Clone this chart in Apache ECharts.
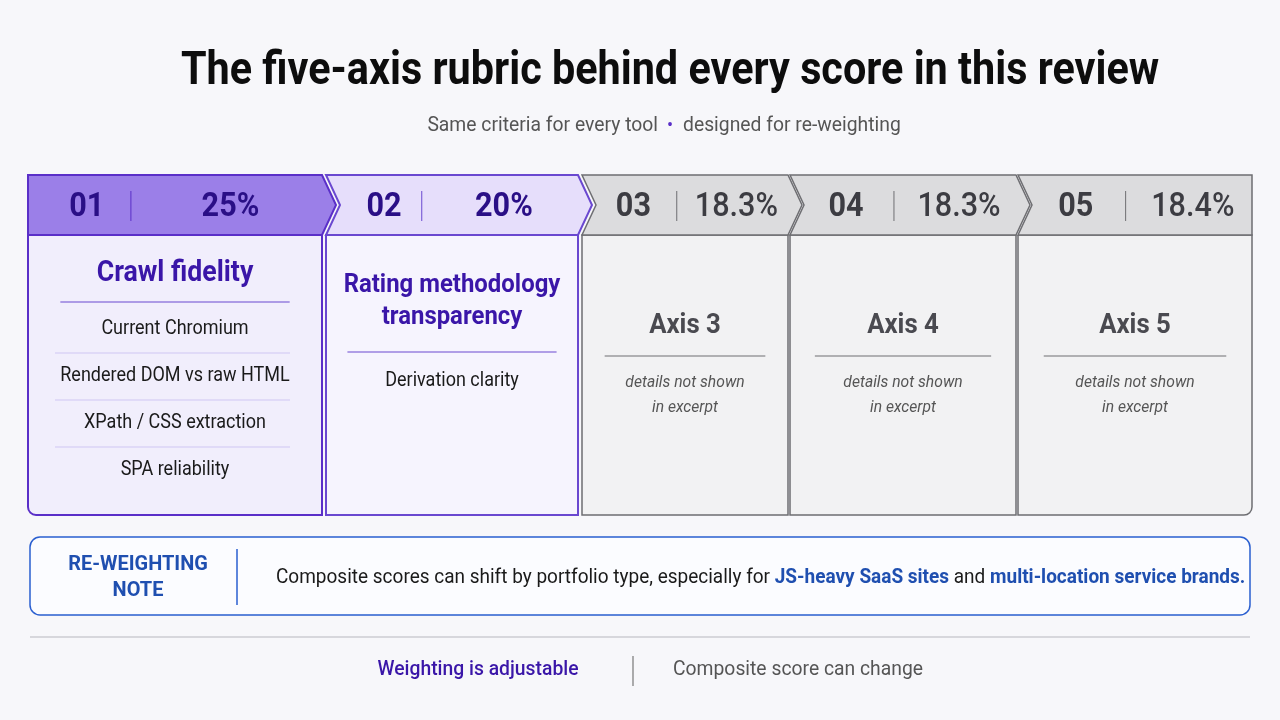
<!DOCTYPE html><html><head><meta charset="utf-8">
<script src="https://cdn.jsdelivr.net/npm/echarts@6/dist/echarts.min.js"></script>
<style>html,body{margin:0;background:#f7f7fa}#c{width:1280px;height:720px}</style></head><body><div id="c"></div>
<script>
const axisNums = ['01','02','03','04','05'];
const axisWeights = ['25%','20%','18.3%','18.3%','18.4%'];
const axisTitles = [['Crawl fidelity'],['Rating methodology','transparency'],['Axis 3'],['Axis 4'],['Axis 5']];
const axisItems = [
  ['Current Chromium','Rendered DOM vs raw HTML','XPath / CSS extraction','SPA reliability'],
  ['Derivation clarity'],
  ['details not shown','in excerpt'],
  ['details not shown','in excerpt'],
  ['details not shown','in excerpt']
];
const titleText = 'The five-axis rubric behind every score in this review';
const subtitleParts = ['Same criteria for every tool', '•', 'designed for re-weighting'];
const noteLabel = ['RE-WEIGHTING','NOTE'];
const noteParts = ['Composite scores can shift by portfolio type, especially for ','JS-heavy SaaS sites',' and ','multi-location service brands.'];
const footer = ['Weighting is adjustable','Composite score can change'];

const F = 'Roboto, sans-serif';
const cols = [[28,322],[326,578],[582,788],[790,1016],[1018,1252]];
const styles = [
  {hdr:'#9b7fe8',body:'#f1eefc',stroke:'#5a2fc8',num:'#2a0f86',title:'#3a16a8',sep:'#6a48d0',item:'#1a1a1a',italic:false},
  {hdr:'#e6defb',body:'#f6f4fe',stroke:'#6a48d0',num:'#2a0f86',title:'#3a16a8',sep:'#6a48d0',item:'#1a1a1a',italic:false},
  {hdr:'#dcdcde',body:'#f2f2f3',stroke:'#6e6e72',num:'#3c3c42',title:'#4a4a50',sep:'#6e6e72',item:'#4a4a50',italic:true},
  {hdr:'#dcdcde',body:'#f2f2f3',stroke:'#6e6e72',num:'#3c3c42',title:'#4a4a50',sep:'#6e6e72',item:'#4a4a50',italic:true},
  {hdr:'#dcdcde',body:'#f2f2f3',stroke:'#6e6e72',num:'#3c3c42',title:'#4a4a50',sep:'#6e6e72',item:'#4a4a50',italic:true}
];
const g = [];
const T = (x,y,text,o,sx)=>g.push({type:'text',x,y,scaleX:sx||1,style:Object.assign({text,fill:'#222',font:'16px '+F,textAlign:'center',textVerticalAlign:'middle'},o)});
T(670,72,titleText,{font:'bold 47px '+F,fill:'#0d0d0d'},0.88);
T(658,126,subtitleParts[0],{font:'21px '+F,fill:'#555',textAlign:'right'},0.92);
T(670,126,subtitleParts[1],{font:'18px '+F,fill:'#5a2fc8'});
T(683,126,subtitleParts[2],{font:'21px '+F,fill:'#555',textAlign:'left'},0.92);

const hy0=175, hy1=235, by1=515, tip=14;
cols.forEach(([x0,x1],i)=>{
  const s=styles[i];
  g.push({type:'rect',shape:{x:x0,y:hy1,width:x1-x0,height:by1-hy1,r:i==0?[0,0,0,8]:(i==4?[0,0,8,0]:0)},style:{fill:s.body,stroke:s.stroke,lineWidth:i<2?2:1.5}});
  const pts = i==0 ? [[x0,hy0],[x1,hy0],[x1+tip,(hy0+hy1)/2],[x1,hy1],[x0,hy1]]
    : i==4 ? [[x0,hy0],[x1,hy0],[x1,hy1],[x0,hy1],[x0+tip,(hy0+hy1)/2]]
    : [[x0,hy0],[x1,hy0],[x1+tip,(hy0+hy1)/2],[x1,hy1],[x0,hy1],[x0+tip,(hy0+hy1)/2]];
  g.push({type:'polygon',shape:{points:pts},style:{fill:s.hdr,stroke:s.stroke,lineWidth:i<2?2:1.5}});
  const w=x1-x0, cx=(x0+x1)/2;
  const div = x0 + (i==0?0.35:i==1?0.38:0.46)*w;
  T(x0+(i==0?0.2:0.23)*w+(i>1?4:0),207,axisNums[i],{font:'bold 34px '+F,fill:s.num},0.9);
  g.push({type:'line',shape:{x1:div,y1:191,x2:div,y2:221},style:{stroke:s.stroke,lineWidth:1}});
  T((div+x1)/2+4,207,axisWeights[i],{font:(i<2?'bold ':'500 ')+'34px '+F,fill:s.num},0.9);
  const tl=axisTitles[i];
  const ty0 = i==0?274:(i==1?285:326);
  tl.forEach((t,k)=>T(cx,ty0+k*32,t,{font:(i==0?'bold 29px ':i==1?'bold 26px ':'bold 28px ')+F,fill:s.title},0.92));
  const sepY = i==0?302:(i==1?352:356);
  const sw = i==0?0.78:(i==1?0.83:0.78);
  g.push({type:'line',shape:{x1:cx-sw*w/2,y1:sepY,x2:cx+sw*w/2,y2:sepY},style:{stroke:s.sep,lineWidth:1.2}});
  axisItems[i].forEach((t,k)=>{
    if(s.italic){T(cx,383+k*25,t,{font:'italic 17px '+F,fill:'#555'},0.92);}
    else{
      const y=(i==0?329:381)+k*47;
      T(cx,y,t,{font:'20px '+F,fill:s.item},0.9);
      if(i==0&&k<3) g.push({type:'line',shape:{x1:55,y1:y+24,x2:290,y2:y+24},style:{stroke:'#cfc6f3',lineWidth:1}});
    }
  });
});

g.push({type:'rect',shape:{x:30,y:537,width:1220,height:78,r:10},style:{fill:'#fbfcff',stroke:'#2a5fd0',lineWidth:1.5}});
T(138,565,noteLabel[0],{font:'bold 21px '+F,fill:'#1f4fb0'},0.95);
T(138,591,noteLabel[1],{font:'bold 21px '+F,fill:'#1f4fb0'},0.95);
g.push({type:'line',shape:{x1:237,y1:549,x2:237,y2:605},style:{stroke:'#2a5fd0',lineWidth:1.5}});
g.push({type:'text',x:276,y:578,scaleX:0.95,style:{rich:{n:{font:'20px '+F,fill:'#1a1a1a'},b:{font:'bold 20px '+F,fill:'#1f4fb0'}},
  text:'{n|'+noteParts[0]+'}{b|'+noteParts[1]+'}{n|'+noteParts[2]+'}{b|'+noteParts[3]+'}',textVerticalAlign:'middle'}});
g.push({type:'line',shape:{x1:30,y1:637,x2:1250,y2:637},style:{stroke:'#b8b8be',lineWidth:1.2}});
T(478,670,footer[0],{font:'500 21px '+F,fill:'#3a16a8'},0.92);
g.push({type:'line',shape:{x1:633,y1:656,x2:633,y2:686},style:{stroke:'#777',lineWidth:1.2}});
T(798,670,footer[1],{font:'21px '+F,fill:'#555'},0.92);

const chart=echarts.init(document.getElementById('c'));
chart.setOption({backgroundColor:'#f7f7fa',graphic:{elements:g}});
</script></body></html>
